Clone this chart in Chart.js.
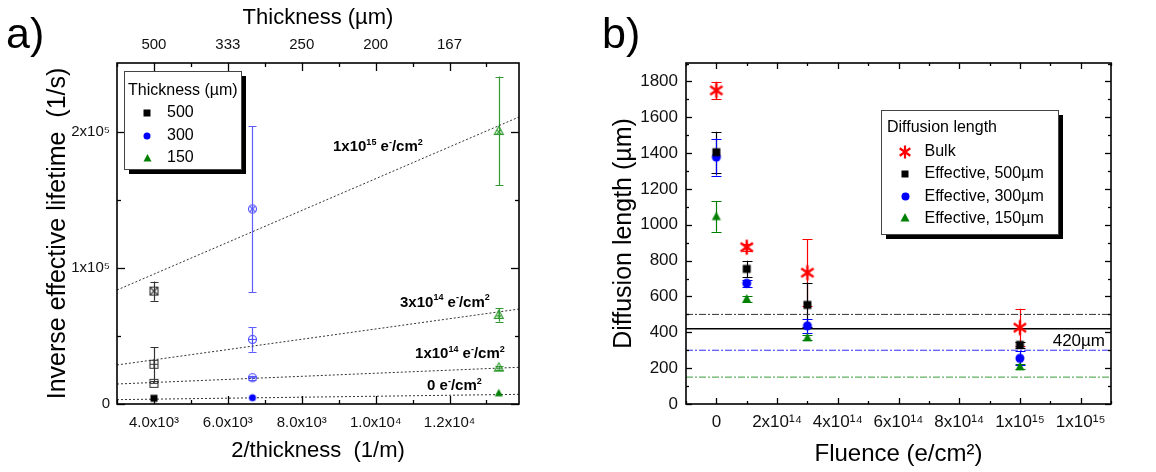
<!DOCTYPE html>
<html><head><meta charset="utf-8">
<script src="https://cdn.jsdelivr.net/npm/chart.js@4.4.1/dist/chart.umd.min.js"></script>
<style>
html,body{margin:0;padding:0;background:#fff;}
#wrap{position:relative;width:1156px;height:472px;overflow:hidden;background:#fff;}
canvas{position:absolute;top:0;}
#ca{left:0;} #cb{left:590px;}
</style></head><body>
<div id="wrap"><canvas id="ca" width="590" height="472"></canvas><canvas id="cb" width="566" height="472"></canvas></div>
<script>
// ===== Panel a) data =====
const invX = [4000, 6667, 13333];            // 2/thickness (1/m) for 500, 300, 150 µm
const thicknessLabels = ['500', '300', '150'];
const inv500 = [4200, 15200, 29200, 83000];  // fluence 0, 1e14, 3e14, 1e15
const inv300 = [4600, 19300, 47500, 143400];
const inv150 = [7900, 26700, 65400, 200700];
const err500 = [0, 0, 12500, 7000];
const err300 = [0, 1500, 9000, 61000];
const err150 = [0, 1500, 5000, 40000];
const fitX = [3000, 13880];
const fit0 = [3200, 7100];
const fit1e14 = [14700, 27000];
const fit3e14 = [28700, 69800];
const fit1e15 = [83800, 211000];
const fitLabels = ['0 e⁻/cm²', '1x10¹⁴ e⁻/cm²', '3x10¹⁴ e⁻/cm²', '1x10¹⁵ e⁻/cm²'];
const xTicksA = [4000, 6000, 8000, 10000, 12000];
const xTickLabelsA = ['4.0x10³', '6.0x10³', '8.0x10³', '1.0x10⁴', '1.2x10⁴'];
const topTickLabelsA = ['500', '333', '250', '200', '167'];
const yTicksA = [0, 100000, 200000];
const yTickLabelsA = ['0', '1x10⁵', '2x10⁵'];

// ===== Panel b) data =====
const fluence = [0, 1e14, 3e14, 1e15];
const seriesB = ['Bulk', 'Effective, 500µm', 'Effective, 300µm', 'Effective, 150µm'];
const bulk = [1750, 875, 733, 426];
const eff500 = [1405, 754, 553, 330];
const eff300 = [1378, 674, 436, 255];
const eff150 = [1046, 586, 370, 208];
const errBulk = [48, 20, 187, 105];
const errEff500 = [115, 45, 125, 15];
const errEff300 = [103, 20, 40, 40];
const errEff150 = [85, 15, 15, 15];
const refLineX = [-1e14, 1.3e15];
const refLines = [500, 420, 300, 150];
const refLabel = '420µm';
const xTicksB = [0, 2e14, 4e14, 6e14, 8e14, 1e15, 1.2e15];
const xTickLabelsB = ['0', '2x10¹⁴', '4x10¹⁴', '6x10¹⁴', '8x10¹⁴', '1x10¹⁵', '1x10¹⁵'];
const yTicksB = [0, 200, 400, 600, 800, 1000, 1200, 1400, 1600, 1800];
const yTickLabelsB = ['0', '200', '400', '600', '800', '1000', '1200', '1400', '1600', '1800'];

// ===== styling helpers =====
const FONT = "'Liberation Sans', Arial, Helvetica, sans-serif";
Chart.defaults.font.family = FONT;
Chart.defaults.color = '#000';

function mk(shape, color, opt) {
  opt = opt || {};
  const size = opt.size || 8, lw = opt.lw || 1.1;
  const S = Math.ceil(size + lw * 2 + 4);
  const c = document.createElement('canvas'); c.width = S; c.height = S;
  const g = c.getContext('2d'); const h = S / 2, r = size / 2;
  g.strokeStyle = color; g.fillStyle = color; g.lineWidth = lw;
  g.beginPath();
  if (shape === 'square') g.rect(h - r, h - r, size, size);
  else if (shape === 'circle') g.arc(h, h, r, 0, 2 * Math.PI);
  else if (shape === 'triangle') { g.moveTo(h, h - r * 1.1); g.lineTo(h + r, h + r * 0.75); g.lineTo(h - r, h + r * 0.75); g.closePath(); }
  else if (shape === 'asterisk') {
    [90, 35, -35].forEach(d => { const a = d * Math.PI / 180; g.moveTo(h - r * Math.cos(a), h - r * Math.sin(a)); g.lineTo(h + r * Math.cos(a), h + r * Math.sin(a)); });
  }
  if (opt.fill) g.fill(); else g.stroke();
  if (opt.inner) {
    g.beginPath();
    const k = shape === 'square' ? r : shape === 'circle' ? r * 0.72 : r * 0.5;
    const cy = shape === 'triangle' ? h + r * 0.2 : h;
    if (opt.inner === '-' || opt.inner === '+') { const w = shape === 'circle' ? r : (shape === 'triangle' ? r * 0.6 : r); g.moveTo(h - w, cy); g.lineTo(h + w, cy); }
    if (opt.inner === '+') { const t = shape === 'triangle' ? h - r * 1.1 : h - r; const b = shape === 'triangle' ? h + r * 0.75 : h + r; g.moveTo(h, t); g.lineTo(h, b); }
    if (opt.inner === 'x') { g.moveTo(h - k, cy - k); g.lineTo(h + k, cy + k); g.moveTo(h + k, cy - k); g.lineTo(h - k, cy + k); }
    g.stroke();
  }
  return c;
}
function markerSet(shape, fillColor, openColor, size) {
  return [mk(shape, fillColor, {fill: true, size: size - 1}), mk(shape, openColor, {inner: '-', size: size}),
          mk(shape, openColor, {inner: '+', size: size}), mk(shape, openColor, {inner: 'x', size: size})];
}

// rich text: unicode superscripts drawn as small raised normal glyphs
const SUP = {'⁰':'0','¹':'1','²':'2','³':'3','⁴':'4','⁵':'5','⁶':'6','⁷':'7','⁸':'8','⁹':'9','⁻':'-'};
function richRuns(text) {
  const runs = []; for (const ch of text) { const s = ch in SUP; const c = s ? SUP[ch] : ch;
    if (runs.length && runs[runs.length - 1].sup === s) runs[runs.length - 1].t += c; else runs.push({t: c, sup: s}); }
  return runs;
}
function drawRich(ctx, text, x, y, size, weight, align) {
  const runs = richRuns(text);
  const f = (sup) => (weight ? weight + ' ' : '') + (sup ? Math.round(size * 0.62) : size) + 'px ' + FONT;
  let total = 0; runs.forEach(r => { ctx.font = f(r.sup); r.w = ctx.measureText(r.t).width; total += r.w; });
  let cx = align === 'right' ? x - total : x;
  ctx.textAlign = 'left'; ctx.textBaseline = 'alphabetic';
  runs.forEach(r => { ctx.font = f(r.sup); ctx.fillText(r.t, cx, y + size * 0.36 - (r.sup ? size * 0.45 : 0)); cx += r.w; });
}

// ===== plugins =====
const errorBars = {
  id: 'errorBars',
  beforeDatasetsDraw(chart) {
    const ctx = chart.ctx; ctx.save();
    chart.data.datasets.forEach((ds, i) => {
      if (!ds.errors) return;
      const xs = chart.scales.x, ys = chart.scales.y;
      ctx.strokeStyle = ds.errColor || ds.borderColor; ctx.lineWidth = 1.2;
      ds.data.forEach((p, j) => {
        const e = ds.errors[j]; if (!e) return;
        const x = Math.round(xs.getPixelForValue(p.x)) + 0.5;
        const y1 = ys.getPixelForValue(p.y + e), y2 = ys.getPixelForValue(p.y - e);
        const cw = ds.capHalf || 4;
        ctx.beginPath();
        ctx.moveTo(x, y1); ctx.lineTo(x, y2);
        ctx.moveTo(x - cw, Math.round(y1) + 0.5); ctx.lineTo(x + cw, Math.round(y1) + 0.5);
        ctx.moveTo(x - cw, Math.round(y2) + 0.5); ctx.lineTo(x + cw, Math.round(y2) + 0.5);
        ctx.stroke();
      });
    });
    ctx.restore();
  }
};

const frame = {
  id: 'frame',
  afterDatasetsDraw(chart, args, o) {
    const {ctx, chartArea: a} = chart; const xs = chart.scales.x, ys = chart.scales.y;
    ctx.save();
    ctx.strokeStyle = '#000'; ctx.lineWidth = 1.6;
    ctx.strokeRect(a.left, a.top, a.right - a.left, a.bottom - a.top);
    ctx.lineWidth = 1.3;
    const seg = (x1, y1, x2, y2) => { ctx.beginPath(); ctx.moveTo(x1, y1); ctx.lineTo(x2, y2); ctx.stroke(); };
    const xt = (vals, L) => vals.forEach(v => { const p = Math.round(xs.getPixelForValue(v)) + 0.5; if (p < a.left - 1 || p > a.right + 1) return; seg(p, a.bottom, p, a.bottom - L); seg(p, a.top, p, a.top + L); });
    const yt = (vals, L) => vals.forEach(v => { const p = Math.round(ys.getPixelForValue(v)) + 0.5; if (p < a.top - 1 || p > a.bottom + 1) return; seg(a.left, p, a.left + L, p); seg(a.right, p, a.right - L, p); });
    xt(o.xMajor, o.major); xt(o.xMinor, o.minor); yt(o.yMajor, o.major); yt(o.yMinor, o.minor);
    ctx.restore();
  }
};

const extras = {
  id: 'extras',
  afterDraw(chart, args, o) {
    const ctx = chart.ctx; const xs = chart.scales.x, ys = chart.scales.y;
    ctx.save();
    ctx.fillStyle = '#000'; ctx.font = '43px ' + FONT; ctx.textBaseline = 'alphabetic'; ctx.textAlign = 'left';
    ctx.fillText(o.panel.text, o.panel.x, o.panel.y);
    (o.notes || []).forEach(n => {
      ctx.fillStyle = '#000';
      const x = n.px !== undefined ? n.px : xs.getPixelForValue(n.x);
      const y = ys.getPixelForValue(n.y) + (n.dy || 0);
      drawRich(ctx, n.text, x, y, n.size, n.weight, n.align);
    });
    const L = o.legend;
    if (L) {
      ctx.fillStyle = '#000'; ctx.fillRect(L.x + 5, L.y + 5, L.w, L.h);
      ctx.fillStyle = '#fff'; ctx.fillRect(L.x, L.y, L.w, L.h);
      ctx.strokeStyle = '#444'; ctx.lineWidth = 1; ctx.strokeRect(L.x + 0.5, L.y + 0.5, L.w, L.h);
      ctx.fillStyle = '#000'; ctx.font = '16px ' + FONT; ctx.textAlign = 'left'; ctx.textBaseline = 'middle';
      ctx.fillText(L.title, L.x + L.tx, L.y + L.ty);
      L.items.forEach((it, k) => {
        const ds = chart.data.datasets[it];
        const img = ds.legendMarker;
        const cy = L.y + L.y0 + k * L.dy;
        ctx.drawImage(img, Math.round(L.x + L.mx - img.width / 2), Math.round(cy - img.height / 2));
        ctx.fillStyle = '#000';
        ctx.fillText(ds.label, L.x + L.textX, cy);
      });
    }
    ctx.restore();
  }
};

const fixTicks = (vals) => (s) => { s.ticks = vals.map(v => ({value: v})); };

// ===== Chart a) =====
const m500 = markerSet('square', '#000', '#333', 8);
const m300 = markerSet('circle', '#0000ff', '#4a4aff', 8);
const m150 = markerSet('triangle', '#008000', '#2e9a2e', 9);
const ptsA = (xv, ys) => ys.map(y => ({x: xv, y}));
const fitDs = (ys, lbl) => ({label: lbl, data: fitX.map((x, i) => ({x, y: ys[i]})), showLine: true, pointRadius: 0,
  borderColor: '#333', borderWidth: 1, borderDash: [2, 2], order: 5});

new Chart(document.getElementById('ca'), {
  type: 'scatter',
  data: {datasets: [
    {label: thicknessLabels[0], data: ptsA(invX[0], inv500), pointStyle: m500, pointRadius: 5, errors: err500, errColor: '#333', capHalf: 4, legendMarker: m500[0], order: 0},
    {label: thicknessLabels[1], data: ptsA(invX[1], inv300), pointStyle: m300, pointRadius: 5, errors: err300, errColor: '#5c5cff', capHalf: 4, legendMarker: m300[0], order: 0},
    {label: thicknessLabels[2], data: ptsA(invX[2], inv150), pointStyle: m150, pointRadius: 5, errors: err150, errColor: '#339933', capHalf: 4, legendMarker: m150[0], order: 0},
    fitDs(fit0, fitLabels[0]), fitDs(fit1e14, fitLabels[1]), fitDs(fit3e14, fitLabels[2]), fitDs(fit1e15, fitLabels[3])
  ]},
  options: {
    responsive: false, animation: false, events: [],
    layout: {padding: {left: 0, right: 71, top: 0, bottom: 0}},
    plugins: {
      legend: {display: false}, tooltip: {enabled: false},
      frame: {xMajor: xTicksA, xMinor: [3000, 5000, 7000, 9000, 11000, 13000], yMajor: yTicksA, yMinor: [50000, 150000], major: 8, minor: 4},
      extras: {
        panel: {text: 'a)', x: 6, y: 48},
        notes: [
          {text: fitLabels[3], x: 8846, y: 189700, size: 15, weight: 'bold'},
          {text: fitLabels[2], x: 10660, y: 75200, size: 15, weight: 'bold'},
          {text: fitLabels[1], x: 11067, y: 37500, size: 15, weight: 'bold'},
          {text: fitLabels[0], x: 11392, y: 14000, size: 15, weight: 'bold'}
        ],
        legend: {title: 'Thickness (µm)', x: 124, y: 71, w: 117, h: 98, tx: 4, ty: 20, mx: 23, textX: 43, y0: 42, dy: 22.5, items: [0, 1, 2]}
      }
    },
    scales: {
      x: {type: 'linear', position: 'bottom', min: 3000, max: 13880,
          afterBuildTicks: fixTicks(xTicksA), afterFit: s => { s.height = 68; },
          grid: {display: false, drawTicks: false}, border: {display: false},
          ticks: {padding: 10, font: {size: 15}, color: '#111', maxRotation: 0, autoSkip: false, callback: (v, i) => xTickLabelsA[i]},
          title: {display: true, text: '2/thickness  (1/m)', font: {size: 22}, color: '#000', padding: {top: 0, bottom: 8}}},
      x2: {type: 'linear', position: 'top', min: 3000, max: 13880,
          afterBuildTicks: fixTicks(xTicksA), afterFit: s => { s.height = 63; },
          grid: {display: false, drawTicks: false}, border: {display: false},
          ticks: {padding: 9, font: {size: 15}, color: '#111', maxRotation: 0, autoSkip: false, callback: (v, i) => topTickLabelsA[i]},
          title: {display: true, text: 'Thickness (µm)', font: {size: 22}, color: '#000', padding: {top: 5, bottom: 0}}},
      y: {type: 'linear', min: 0, max: 250700,
          afterBuildTicks: fixTicks(yTicksA), afterFit: s => { s.width = 117; },
          grid: {display: false, drawTicks: false}, border: {display: false},
          ticks: {padding: 7, font: {size: 15}, color: '#111', autoSkip: false, callback: (v, i) => yTickLabelsA[i]},
          title: {display: true, text: 'Inverse effective lifetime  (1/s)', font: {size: 25}, color: '#000', padding: {top: 43, bottom: 0}}}
    }
  },
  plugins: [errorBars, frame, extras]
});

// ===== Chart b) =====
const mBulk = mk('asterisk', '#ff0000', {size: 15, lw: 2.4});
const mSq = mk('square', '#000', {fill: true, size: 8});
const mCi = mk('circle', '#0000ff', {fill: true, size: 9});
const mTr = mk('triangle', '#008000', {fill: true, size: 9});
const ptsB = ys => fluence.map((x, i) => ({x, y: ys[i]}));
const refDs = (y, color, dash, w) => ({data: refLineX.map(x => ({x, y})), showLine: true, pointRadius: 0, borderColor: color, borderWidth: w, borderDash: dash, order: 5});

new Chart(document.getElementById('cb'), {
  type: 'scatter',
  data: {datasets: [
    {label: seriesB[0], data: ptsB(bulk), pointStyle: mBulk, pointRadius: 7, errors: errBulk, errColor: '#ff0000', capHalf: 5, legendMarker: mk('asterisk', '#ff0000', {size: 13, lw: 2.2}), order: 0},
    {label: seriesB[1], data: ptsB(eff500), pointStyle: mSq, pointRadius: 5, errors: errEff500, errColor: '#000', capHalf: 5, legendMarker: mk('square', '#000', {fill: true, size: 7}), order: 1},
    {label: seriesB[2], data: ptsB(eff300), pointStyle: mCi, pointRadius: 5, errors: errEff300, errColor: '#0000ff', capHalf: 5, legendMarker: mk('circle', '#0000ff', {fill: true, size: 8}), order: 2},
    {label: seriesB[3], data: ptsB(eff150), pointStyle: mTr, pointRadius: 5, errors: errEff150, errColor: '#008000', capHalf: 5, legendMarker: mk('triangle', '#008000', {fill: true, size: 9}), order: 3},
    refDs(refLines[0], '#333', [7, 2, 2, 2], 1),
    refDs(refLines[1], '#000', [], 1.6),
    refDs(refLines[2], '#3030ff', [7, 2, 2, 2], 1),
    refDs(refLines[3], '#3a9a3a', [7, 2, 2, 2], 1)
  ]},
  options: {
    responsive: false, animation: false, events: [],
    layout: {padding: {left: 0, right: 45, top: 63, bottom: 0}},
    plugins: {
      legend: {display: false}, tooltip: {enabled: false},
      frame: {xMajor: xTicksB, xMinor: [-1e14, 1e14, 3e14, 5e14, 7e14, 9e14, 1.1e15, 1.3e15], yMajor: yTicksB, yMinor: [100, 300, 500, 700, 900, 1100, 1300, 1500, 1700, 1900], major: 6, minor: 3},
      extras: {
        panel: {text: 'b)', x: 12, y: 48},
        notes: [{text: refLabel, px: 515, y: refLines[1], dy: 11, align: 'right', size: 17}],
        legend: {title: 'Diffusion length', x: 291, y: 110, w: 177, h: 124, tx: 6, ty: 18, mx: 24, textX: 43.5, y0: 41.5, dy: 22.3, items: [0, 1, 2, 3]}
      }
    },
    scales: {
      x: {type: 'linear', min: -1e14, max: 1.3e15,
          afterBuildTicks: fixTicks(xTicksB), afterFit: s => { s.height = 68; },
          grid: {display: false, drawTicks: false}, border: {display: false},
          ticks: {padding: 8, font: {size: 17}, color: '#111', maxRotation: 0, autoSkip: false, callback: (v, i) => xTickLabelsB[i]},
          title: {display: true, text: 'Fluence (e/cm²)', font: {size: 24}, color: '#000', padding: {top: 0, bottom: 3}}},
      y: {type: 'linear', min: 0, max: 1903,
          afterBuildTicks: fixTicks(yTicksB), afterFit: s => { s.width = 96; },
          grid: {display: false, drawTicks: false}, border: {display: false},
          ticks: {padding: 8, font: {size: 17}, color: '#111', autoSkip: false, callback: (v, i) => yTickLabelsB[i]},
          title: {display: true, text: 'Diffusion length (µm)', font: {size: 25}, color: '#000', padding: {top: 19, bottom: 0}}}
    }
  },
  plugins: [errorBars, frame, extras]
});
</script>
</body></html>
